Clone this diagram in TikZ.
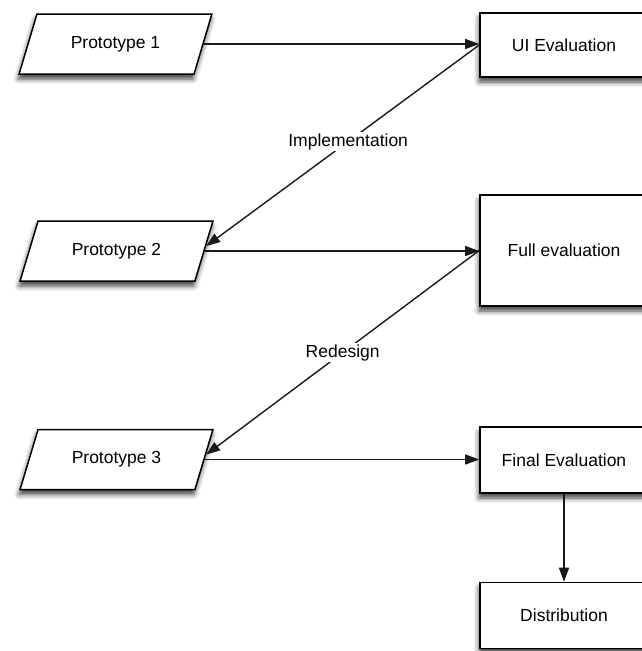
\documentclass[tikz,border=0pt]{standalone}
\usepackage{fontspec}
\setmainfont{Liberation Sans}
\usetikzlibrary{shapes.geometric,shadows.blur,arrows.meta,calc}

\begin{document}
\begin{tikzpicture}[x=1pt,y=-1pt,
  every node/.style={font=\fontsize{17.5}{21}\selectfont, text=black},
  soft shadow/.style={blur shadow={shadow xshift=-1pt, shadow yshift=-5pt,
      shadow blur radius=5pt, shadow opacity=75}},
  proto/.style={trapezium, trapezium left angle=57, trapezium right angle=123,
      trapezium stretches=true, draw=black, line width=1.5pt, fill=white,
      minimum width=193pt, minimum height=60pt, inner sep=0pt, soft shadow},
  stage/.style={rectangle, draw=black, line width=1.6pt, fill=white,
      minimum width=168pt, inner sep=0pt, soft shadow},
  flow/.style={draw=black!90, line width=1.4pt,
      -{Triangle[length=14pt,width=10pt]}},
  lbl/.style={fill=white, inner sep=1.5pt}]

\useasboundingbox (0,0) rectangle (641,651);

% input prototypes
\node[proto] (p1) at (115.5,44)  {Prototype 1};
\node[proto] (p2) at (116.5,251) {Prototype 2};
\node[proto] (p3) at (116.5,459.5) {Prototype 3};

% evaluation stages
\node[stage, minimum height=64pt]  (ui)    at (564,45)    {UI Evaluation};
\node[stage, minimum height=111pt] (full)  at (564,250.5) {Full evaluation};
\node[stage, minimum height=66pt]  (final) at (564,460)   {Final Evaluation};
\node[stage, minimum height=66pt]  (dist)  at (564,615.5) {Distribution};

% feedback entry points on the prototypes
\coordinate (p2in) at ($(p2.top right corner)!0.42!(p2.bottom right corner)$);
\coordinate (p3in) at ($(p3.top right corner)!0.42!(p3.bottom right corner)$);

% prototype -> evaluation
\draw[flow] (p1.east) -- (p1.east -| ui.west);
\draw[flow] (p2.east) -- (p2.east -| full.west);
\draw[flow] (p3.east) -- (p3.east -| final.west);

% evaluation -> next prototype
\draw[flow] (ui.west) -- node[lbl, pos=0.48] {Implementation} (p2in);
\draw[flow] (full.west) -- node[lbl, pos=0.5] {Redesign} (p3in);

% release
\draw[flow] (final) -- (dist);

\end{tikzpicture}
\end{document}
